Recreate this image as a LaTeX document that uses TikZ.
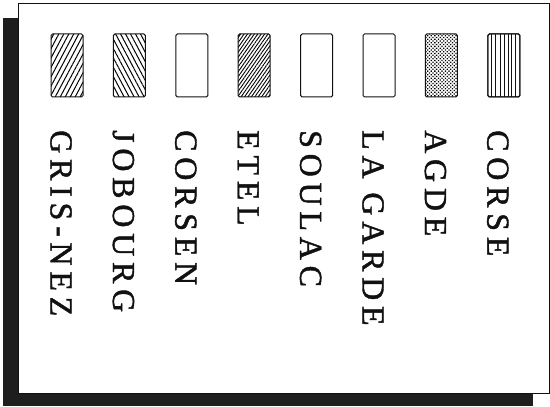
\documentclass[tikz,border=0pt]{standalone}
\usepackage{fontspec}
\setmainfont{Liberation Serif}
\newfontfamily\lblfont{Liberation Serif}[LetterSpace=18,FakeBold=1.3]
\usetikzlibrary{positioning,patterns.meta}
\definecolor{ink}{HTML}{111111}
\definecolor{shadowgray}{HTML}{1E1E1E}

\begin{document}
\begin{tikzpicture}[x=1pt,y=1pt,node distance=30.4pt,
  swatch/.style={draw=ink,line width=1pt,rounded corners=1.5pt,minimum width=32pt,minimum height=63pt,inner sep=0pt,outer sep=0pt},
  lbl/.style={rotate=-90,anchor=west,inner sep=0pt,font=\lblfont\fontsize{32}{34}\selectfont,text=ink}]
\useasboundingbox (0,0) rectangle (550,407);
% shadow and frame
\fill[shadowgray] (3,1) rectangle (533,389);
\draw[ink,fill=white,line width=0.9pt] (18,14) rectangle (549,404);
% swatches
\node[swatch,pattern={Lines[angle=62,distance=4.4pt,line width=1pt]}] (grisnez) at (67,341.5) {};
\node[swatch,pattern={Lines[angle=118,distance=4.4pt,line width=1pt]},right=of grisnez] (jobourg) {};
\node[swatch,right=of jobourg] (corsen) {};
\node[swatch,pattern={Lines[angle=55,distance=2.8pt,line width=0.9pt]},right=of corsen] (etel) {};
\node[swatch,right=of etel] (soulac) {};
\node[swatch,right=of soulac] (lagarde) {};
\node[swatch,pattern={Dots[distance=2.5pt,radius=0.9pt,angle=45]},right=of lagarde] (agde) {};
\node[swatch,right=of agde] (corse) {};
\foreach \dx in {4,8,13,17,21,24,28}
  \draw[ink,line width=0.8pt] ([xshift=\dx pt]corse.south west) -- ([xshift=\dx pt]corse.north west);
\node[swatch] at (corse) {};
% labels
\node[lbl] (lgrisnez) at ([xshift=-6pt]grisnez.center |- 0,277) {GRIS-NEZ};
\node[lbl] (ljobourg) at ([xshift=-6pt]jobourg.center |- 0,277) {JOBOURG};
\node[lbl] (lcorsen) at ([xshift=-6pt]corsen.center |- 0,277) {CORSEN};
\node[lbl] (letel) at ([xshift=-6pt]etel.center |- 0,277) {ETEL};
\node[lbl] (lsoulac) at ([xshift=-6pt]soulac.center |- 0,277) {SOULAC};
\node[lbl] (llagarde) at ([xshift=-6pt]lagarde.center |- 0,277) {LA GARDE};
\node[lbl] (lagde) at ([xshift=-6pt]agde.center |- 0,277) {AGDE};
\node[lbl] (lcorse) at ([xshift=-6pt]corse.center |- 0,277) {CORSE};
\end{tikzpicture}
\end{document}
